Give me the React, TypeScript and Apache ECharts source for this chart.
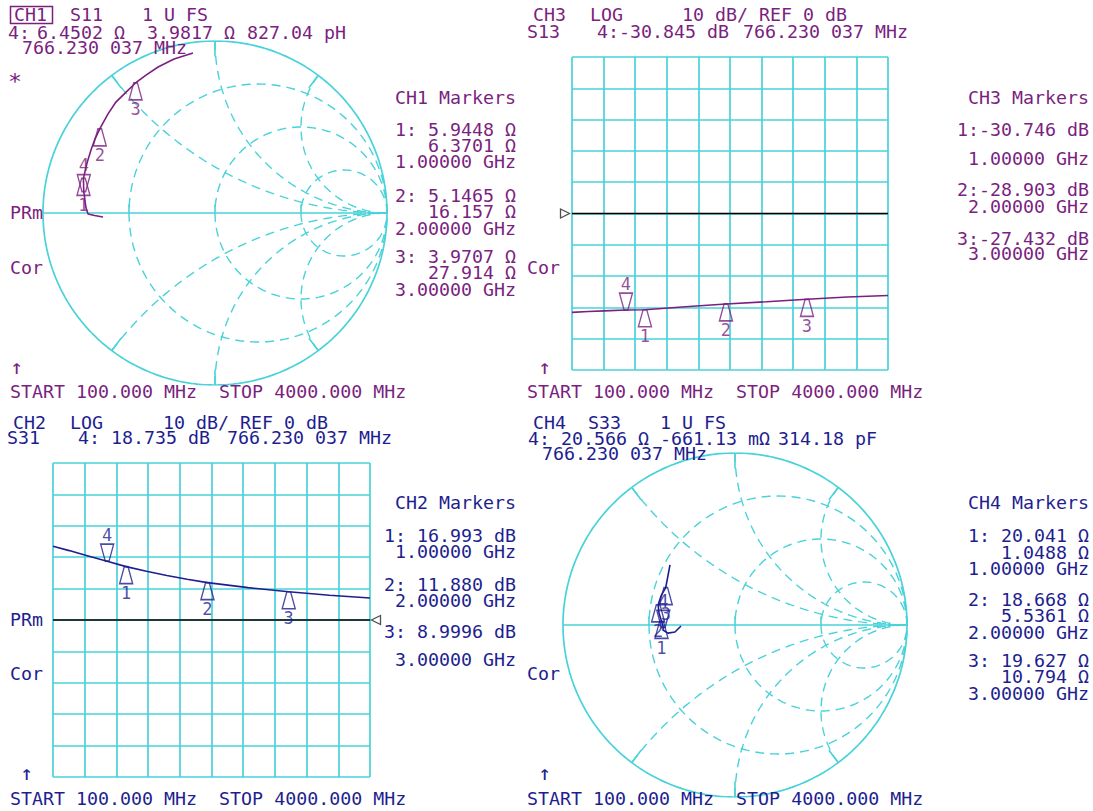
import React, { useEffect, useRef } from "react";
import * as echarts from "echarts";

const PURPLE = "#7b1f80";
const BLUE = "#1e1e90";
const CYAN = "#48d2d9";
const FONT = '"DejaVu Sans Mono", monospace';

// ---------- data ----------
// CH1 S11 trace, reflection coefficient
const ch1Freq = [100, 150, 200, 300, 400, 500, 600, 766, 1000, 1250, 1500, 1750, 2000, 2250, 2500, 2750, 3000, 3250, 3500, 3750, 4000];
const ch1Re = [-0.651, -0.7, -0.738, -0.75, -0.756, -0.758, -0.76, -0.763, -0.765, -0.744, -0.721, -0.698, -0.67, -0.622, -0.576, -0.517, -0.462, -0.401, -0.331, -0.238, -0.128];
const ch1Im = [-0.023, -0.015, -0.006, 0.03, 0.07, 0.09, 0.105, 0.124, 0.201, 0.291, 0.366, 0.43, 0.489, 0.576, 0.645, 0.703, 0.756, 0.802, 0.849, 0.895, 0.93];
// CH1 markers (impedance, ohms)
const ch1MarkR = [5.9448, 5.1465, 3.9707];
const ch1MarkX = [6.3701, 16.157, 27.914];
const ch1M4 = [6.4502, 3.9817];

// CH3 S13 log magnitude (dB)
const ch3Freq = [100, 300, 500, 766, 1000, 1500, 2000, 2500, 3000, 3500, 4000];
const ch3Db = [-31.6, -31.3, -31.1, -30.85, -30.75, -29.8, -28.9, -28.2, -27.4, -26.7, -26.2];
const ch3MarkDb = [-30.746, -28.903, -27.432];
const ch3M4 = -30.845;

// CH2 S31 log magnitude (dB)
const ch2Freq = [100, 300, 500, 766, 1000, 1250, 1500, 1750, 2000, 2500, 3000, 3500, 4000];
const ch2Db = [23.5, 22.1, 20.6, 18.7, 17.0, 15.5, 14.2, 13.0, 11.9, 10.3, 9.0, 7.9, 7.0];
const ch2MarkDb = [16.993, 11.88, 8.9996];
const ch2M4 = 18.735;

// CH4 S33 trace, reflection coefficient
const ch4Freq = [100, 200, 300, 500, 766, 1000, 1500, 2000, 2500, 3000, 3500, 4000];
const ch4Re = [-0.314, -0.349, -0.39, -0.419, -0.417, -0.427, -0.442, -0.447, -0.43, -0.403, -0.39, -0.378];
const ch4Im = [-0.006, -0.041, -0.047, -0.029, -0.013, 0.021, 0.07, 0.117, 0.169, 0.217, 0.285, 0.349];
const ch4MarkR = [20.041, 18.668, 19.627];
const ch4MarkX = [1.0488, 5.5361, 10.794];
const ch4M4 = [20.566, -0.66113];

const markFreq = [1000, 2000, 3000];
const m4Freq = 766.230037;
const markNames = ["1", "2", "3"];

// Smith graticule values
const SMITH_R = [1 / 3, 1, 3];
const SMITH_X = [0.5, 1, 2];

// ---------- helpers ----------
function gamma(R: number, X: number, z0 = 50): [number, number] {
  const a = R / z0, b = X / z0;
  const d = (a + 1) * (a + 1) + b * b;
  return [(a * a - 1 + b * b) / d, (2 * b) / d];
}

function smithGraticule(xi: number, yi: number) {
  const out: any[] = [];
  const dashed = { color: CYAN, width: 1.4, type: [9, 6] };
  const base = { type: "line", xAxisIndex: xi, yAxisIndex: yi, showSymbol: false, silent: true, z: 1 };
  for (const r of SMITH_R) {
    const cx = r / (1 + r), rad = 1 / (1 + r);
    const pts: number[][] = [];
    for (let t = 0; t <= 360; t += 2) {
      const a = (t * Math.PI) / 180;
      pts.push([cx + rad * Math.cos(a), rad * Math.sin(a)]);
    }
    out.push({ ...base, data: pts, lineStyle: dashed });
  }
  for (const x of SMITH_X) {
    for (const s of [1, -1]) {
      const pts: number[][] = [];
      for (let k = 0; k < 200; k++) {
        const t = k / 200;
        const a = t / (1 - t);
        const b = s * x;
        const d = (a + 1) * (a + 1) + b * b;
        pts.push([(a * a - 1 + b * b) / d, (2 * b) / d]);
      }
      pts.push([1, 0]);
      out.push({ ...base, data: pts, lineStyle: dashed });
    }
  }
  const circ: number[][] = [];
  for (let t = 0; t <= 360; t += 1) {
    const a = (t * Math.PI) / 180;
    circ.push([Math.cos(a), Math.sin(a)]);
  }
  out.push({ ...base, data: circ, lineStyle: { color: CYAN, width: 1.7 } });
  out.push({ ...base, data: [[-1, 0], [1, 0]], lineStyle: { color: CYAN, width: 1.7 } });
  // perimeter ticks where reactance arcs meet the outer circle
  for (const x of SMITH_X) {
    for (const s of [1, -1]) {
      const b = s * x;
      const d = 1 + b * b;
      const gx = (b * b - 1) / d, gy = (2 * b) / d;
      out.push({ ...base, data: [[gx, gy], [gx * 0.91, gy * 0.91]], lineStyle: { color: CYAN, width: 1.6 } });
    }
  }
  // ticks on the real axis where resistance circles cross it
  for (const r of SMITH_R) {
    const g = (r - 1) / (r + 1);
    out.push({ ...base, data: [[g, 0], [g, 0.05]], lineStyle: { color: CYAN, width: 1.6 } });
  }
  return out;
}

const UP = "path://M5,0 L9,0 L14,18 L0,18 Z";
const DOWN = "path://M0,0 L14,0 L9,18 L5,18 Z";

function markerSeries(xi: number, yi: number, data: any[], color: string, up: boolean) {
  return {
    type: "scatter",
    xAxisIndex: xi,
    yAxisIndex: yi,
    data,
    symbol: up ? UP : DOWN,
    symbolSize: [13, 17],
    symbolOffset: [0, up ? 8.5 : -8.5],
    itemStyle: { color: "rgba(0,0,0,0)", borderColor: color, borderWidth: 1.5 },
    label: {
      show: true,
      position: up ? "bottom" : "top",
      distance: 0,
      color,
      fontFamily: FONT,
      fontSize: 17,
      formatter: (p: any) => p.value[2],
    },
    silent: true,
    z: 6,
  };
}

function T(text: string, x: number, y: number, color: string, align = "left", size = 15) {
  return {
    type: "text",
    x,
    y,
    scaleX: 1.22,
    scaleY: 1.12,
    silent: true,
    z: 10,
    style: {
      text,
      fill: color,
      fontFamily: FONT,
      fontSize: size,
      textAlign: align,
      align,
      textVerticalAlign: "middle",
      verticalAlign: "middle",
    },
  };
}

function rectAxisX(gridIndex: number) {
  return {
    type: "value", gridIndex, min: 0, max: 10, interval: 1,
    axisLine: { show: false }, axisTick: { show: false }, axisLabel: { show: false },
    splitLine: { show: true, lineStyle: { color: CYAN, width: 1.7 } },
  };
}
function rectAxisY(gridIndex: number) {
  return {
    type: "value", gridIndex, min: -50, max: 50, interval: 10,
    axisLine: { show: false }, axisTick: { show: false }, axisLabel: { show: false },
    splitLine: { show: true, lineStyle: { color: CYAN, width: 1.7 } },
  };
}
function hidden(gridIndex: number, min: number, max: number) {
  return { type: "value", gridIndex, min, max, show: false, splitLine: { show: false } };
}

export default function App() {
  const ref = useRef<HTMLDivElement>(null);
  useEffect(() => {
    if (!ref.current) return;
    const chart = echarts.init(ref.current, null, { renderer: "svg" });

    const ch1Trace = ch1Freq.map((_, i) => [ch1Re[i], ch1Im[i]]);
    const ch4Trace = ch4Freq.map((_, i) => [ch4Re[i], ch4Im[i]]);
    const ch1Marks = ch1MarkR.map((r, i) => [...gamma(r, ch1MarkX[i]), markNames[i]]);
    const ch4Marks = ch4MarkR.map((r, i) => [...gamma(r, ch4MarkX[i]), markNames[i]]);
    const ch1Mark4 = [[...gamma(ch1M4[0], ch1M4[1]), "4"]];
    const ch4Mark4 = [[...gamma(ch4M4[0], ch4M4[1]), "4"]];

    const lineBase = { type: "line", showSymbol: false, silent: true, z: 4 };

    const texts: any[] = [];
    // CH1
    texts.push(T("CH1", 14, 15, PURPLE), T("S11", 70, 15, PURPLE), T("1 U FS", 142, 15, PURPLE));
    texts.push(T("4:", 8, 33, PURPLE), T("6.4502 Ω", 37, 33, PURPLE), T("3.9817 Ω", 147, 33, PURPLE), T("827.04 pH", 247, 33, PURPLE));
    texts.push(T("766.230 037 MHz", 22, 48, PURPLE));
    texts.push(T("*", 8, 81, PURPLE, "left", 19));
    texts.push(T("PRm", 10, 213, PURPLE), T("Cor", 10, 268, PURPLE), T("↑", 10, 367, PURPLE, "left", 18));
    texts.push(T("START 100.000 MHz  STOP 4000.000 MHz", 10, 392, PURPLE));
    const ch1MarkTxt: [string, number][] = [
      ["CH1 Markers", 98], ["1: 5.9448 Ω", 130], ["6.3701 Ω", 146], ["1.00000 GHz", 162],
      ["2: 5.1465 Ω", 196], ["16.157 Ω", 212], ["2.00000 GHz", 229],
      ["3: 3.9707 Ω", 257], ["27.914 Ω", 273], ["3.00000 GHz", 290],
    ];
    ch1MarkTxt.forEach(([t, y]) => texts.push(T(t, 516, y, PURPLE, "right")));
    // CH3
    texts.push(T("CH3", 533, 15, PURPLE), T("LOG", 590, 15, PURPLE), T("10 dB/ REF 0 dB", 682, 15, PURPLE));
    texts.push(T("S13", 527, 32, PURPLE), T("4:-30.845 dB", 597, 32, PURPLE), T("766.230 037 MHz", 743, 32, PURPLE));
    texts.push(T("Cor", 527, 268, PURPLE), T("↑", 538, 367, PURPLE, "left", 18));
    texts.push(T("START 100.000 MHz  STOP 4000.000 MHz", 527, 392, PURPLE));
    const ch3MarkTxt: [string, number][] = [
      ["CH3 Markers", 98], ["1:-30.746 dB", 130], ["1.00000 GHz", 159],
      ["2:-28.903 dB", 190], ["2.00000 GHz", 207], ["3:-27.432 dB", 239], ["3.00000 GHz", 254],
    ];
    ch3MarkTxt.forEach(([t, y]) => texts.push(T(t, 1089, y, PURPLE, "right")));
    // CH2
    texts.push(T("CH2", 13, 423, BLUE), T("LOG", 70, 423, BLUE), T("10 dB/ REF 0 dB", 163, 423, BLUE));
    texts.push(T("S31", 7, 438, BLUE), T("4: 18.735 dB", 78, 438, BLUE), T("766.230 037 MHz", 227, 438, BLUE));
    texts.push(T("PRm", 10, 620, BLUE), T("Cor", 10, 674, BLUE), T("↑", 20, 773, BLUE, "left", 18));
    texts.push(T("START 100.000 MHz  STOP 4000.000 MHz", 10, 799, BLUE));
    const ch2MarkTxt: [string, number][] = [
      ["CH2 Markers", 503], ["1: 16.993 dB", 536], ["1.00000 GHz", 552],
      ["2: 11.880 dB", 585], ["2.00000 GHz", 601], ["3: 8.9996 dB", 632], ["3.00000 GHz", 660],
    ];
    ch2MarkTxt.forEach(([t, y]) => texts.push(T(t, 516, y, BLUE, "right")));
    // CH4
    texts.push(T("CH4", 533, 423, BLUE), T("S33", 588, 423, BLUE), T("1 U FS", 660, 423, BLUE));
    texts.push(T("4: 20.566 Ω", 528, 439, BLUE), T("-661.13 mΩ", 660, 439, BLUE), T("314.18 pF", 778, 439, BLUE));
    texts.push(T("766.230 037 MHz", 542, 454, BLUE));
    texts.push(T("Cor", 527, 674, BLUE), T("↑", 538, 773, BLUE, "left", 18));
    texts.push(T("START 100.000 MHz  STOP 4000.000 MHz", 527, 799, BLUE));
    const ch4MarkTxt: [string, number][] = [
      ["CH4 Markers", 503], ["1: 20.041 Ω", 536], ["1.0488 Ω", 553], ["1.00000 GHz", 569],
      ["2: 18.668 Ω", 600], ["5.5361 Ω", 616], ["2.00000 GHz", 633],
      ["3: 19.627 Ω", 661], ["10.794 Ω", 677], ["3.00000 GHz", 694],
    ];
    ch4MarkTxt.forEach(([t, y]) => texts.push(T(t, 1089, y, BLUE, "right")));
    texts.push({
      type: "rect", silent: true, z: 10,
      shape: { x: 10.5, y: 6.5, width: 42, height: 17 },
      style: { fill: "none", stroke: PURPLE, lineWidth: 1.5 },
    });

    const option: any = {
      animation: false,
      backgroundColor: "#ffffff",
      grid: [
        { left: 43, top: 41, width: 344, height: 344 },
        { left: 572, top: 57, width: 316, height: 313 },
        { left: 53, top: 463, width: 317, height: 314 },
        { left: 563, top: 453, width: 344, height: 344 },
      ],
      xAxis: [
        hidden(0, -1, 1),
        rectAxisX(1),
        hidden(1, 100, 4000),
        rectAxisX(2),
        hidden(2, 100, 4000),
        hidden(3, -1, 1),
      ],
      yAxis: [hidden(0, -1, 1), rectAxisY(1), rectAxisY(2), hidden(3, -1, 1)],
      series: [
        ...smithGraticule(0, 0),
        ...smithGraticule(5, 3),
        // CH1 trace
        { ...lineBase, xAxisIndex: 0, yAxisIndex: 0, data: ch1Trace, lineStyle: { color: PURPLE, width: 1.6 } },
        markerSeries(0, 0, ch1Marks, PURPLE, true),
        markerSeries(0, 0, ch1Mark4, PURPLE, false),
        // CH3
        { ...lineBase, xAxisIndex: 2, yAxisIndex: 1, data: [[100, 0], [4000, 0]], lineStyle: { color: "#000", width: 1.6 } },
        { ...lineBase, xAxisIndex: 2, yAxisIndex: 1, data: ch3Freq.map((f, i) => [f, ch3Db[i]]), lineStyle: { color: PURPLE, width: 1.6 } },
        markerSeries(2, 1, markFreq.map((f, i) => [f, ch3MarkDb[i], markNames[i]]), PURPLE, true),
        markerSeries(2, 1, [[m4Freq, ch3M4, "4"]], PURPLE, false),
        {
          type: "scatter", xAxisIndex: 2, yAxisIndex: 1, data: [[100, 0]], silent: true, z: 6,
          symbol: "path://M0,0 L10,5 L0,10 Z", symbolSize: [9, 9], symbolOffset: [-7, 0],
          itemStyle: { color: "#fff", borderColor: "#222", borderWidth: 1.3 },
        },
        // CH2
        { ...lineBase, xAxisIndex: 4, yAxisIndex: 2, data: [[100, 0], [4000, 0]], lineStyle: { color: "#000", width: 1.6 } },
        { ...lineBase, xAxisIndex: 4, yAxisIndex: 2, data: ch2Freq.map((f, i) => [f, ch2Db[i]]), lineStyle: { color: BLUE, width: 1.6 } },
        markerSeries(4, 2, markFreq.map((f, i) => [f, ch2MarkDb[i], markNames[i]]), BLUE, true),
        markerSeries(4, 2, [[m4Freq, ch2M4, "4"]], BLUE, false),
        {
          type: "scatter", xAxisIndex: 4, yAxisIndex: 2, data: [[4000, 0]], silent: true, z: 6,
          symbol: "path://M10,0 L0,5 L10,10 Z", symbolSize: [9, 9], symbolOffset: [6, 0],
          itemStyle: { color: "#fff", borderColor: "#222", borderWidth: 1.3 },
        },
        // CH4
        { ...lineBase, xAxisIndex: 5, yAxisIndex: 3, data: ch4Trace, lineStyle: { color: BLUE, width: 1.6 } },
        markerSeries(5, 3, ch4Marks, BLUE, true),
        markerSeries(5, 3, ch4Mark4, BLUE, false),
      ],
      graphic: { elements: texts },
    };
    chart.setOption(option);
    return () => chart.dispose();
  }, []);
  return (
    <div
      ref={ref}
      style={{ position: "fixed", left: 0, top: 0, width: 1093, height: 811, background: "#fff" }}
    />
  );
}
